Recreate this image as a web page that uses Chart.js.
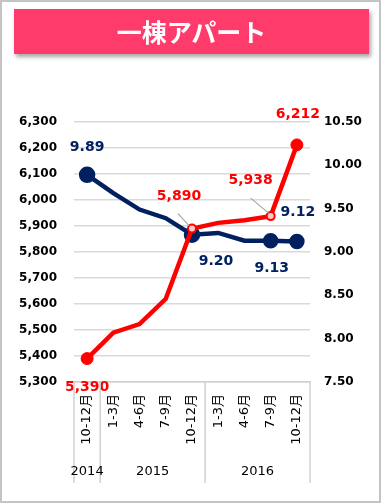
<!DOCTYPE html>
<html><head><meta charset="utf-8">
<script src="https://cdn.jsdelivr.net/npm/chart.js@4"></script>
<style>
html,body{margin:0;padding:0;background:#fff;}
body{position:relative;width:381px;height:503px;overflow:hidden;}
#c{position:absolute;left:0;top:0;}
#frame{position:absolute;left:0;top:0;width:381px;height:503px;box-sizing:border-box;border:2px solid #c4c4c4;pointer-events:none;}
#title{position:absolute;left:14px;top:9px;width:355px;height:45px;background:#FF3B6B;color:#fff;font:bold 25px "Noto Sans CJK JP";text-align:center;line-height:44px;box-shadow:2px 3px 4px rgba(0,0,0,0.35);}
</style></head>
<body>
<canvas id="c" width="381" height="503"></canvas>
<div id="title">一棟アパート</div>
<div id="frame"></div>
<script>
const categories = ["10-12月","1-3月","4-6月","7-9月","10-12月","1-3月","4-6月","7-9月","10-12月"];
const years = ["2014","2015","2016"];
const yearStart = [0,1,5];
const yearEnd = [0,4,8];
const priceValues = [5390,5490,5523,5620,5890,5912,5922,5938,6212];
const yieldValues = [9.89,9.68,9.49,9.39,9.20,9.22,9.13,9.13,9.12];
const leftTicks = {min:5300,max:6300,step:100};
const rightTicks = {min:7.5,max:10.5,step:0.5};

const RED = '#FF0000', NAVY = '#002060';
const FONT = 'DejaVu Sans, "Noto Sans CJK JP", sans-serif';

// marker styling per point index
const redBig = [0,8], redRing = [4,7];
const navyBig = [0,4], navyMid = [7,8];

// labels: [datasetIndex, pointIndex, dx, dy, leader]
const labelSpecs = [
  [1,0,0,-28,null],
  [0,0,0,29,null],
  [0,4,-13,-32,[-14,-15,-3,-3]],
  [1,4,24,27,null],
  [0,7,-20,-36,[-20,-18,-2,-3]],
  [1,7,1,28,null],
  [1,8,1,-29,null],
  [0,8,1,-31,null]
];

const fmtPrice = v => v.toLocaleString('en-US');
const fmtYield = v => v.toFixed(2);

const groupPlugin = {
  id:'groups',
  afterDraw(chart){
    const ctx = chart.ctx, xs = chart.scales.x, area = chart.chartArea;
    const step = xs.getPixelForValue(1) - xs.getPixelForValue(0);
    ctx.save();
    ctx.strokeStyle = '#d0d0d0';
    ctx.lineWidth = 1.5;
    const bounds = [0,1,5,9];
    bounds.forEach(b=>{
      const x = xs.getPixelForValue(0) + (b-0.5)*step;
      ctx.beginPath(); ctx.moveTo(x, area.bottom); ctx.lineTo(x, 483); ctx.stroke();
    });
    ctx.fillStyle = '#000';
    ctx.font = '13px ' + FONT;
    ctx.textAlign = 'center'; ctx.textBaseline = 'middle';
    years.forEach((y,i)=>{
      const x = (xs.getPixelForValue(yearStart[i]) + xs.getPixelForValue(yearEnd[i]))/2;
      ctx.fillText(y, x, 472);
    });
    ctx.restore();
  }
};

const labelPlugin = {
  id:'dlabels',
  afterDatasetsDraw(chart){
    const ctx = chart.ctx;
    ctx.save();
    labelSpecs.forEach(([d,i,dx,dy,leader])=>{
      const el = chart.getDatasetMeta(d).data[i];
      const px = el.x, py = el.y;
      if(leader){
        ctx.strokeStyle = '#a6a6a6'; ctx.lineWidth = 1.2;
        ctx.beginPath(); ctx.moveTo(px+leader[0], py+leader[1]); ctx.lineTo(px+leader[2], py+leader[3]); ctx.stroke();
      }
      const v = chart.data.datasets[d].data[i];
      ctx.fillStyle = d===0 ? RED : NAVY;
      ctx.font = 'bold 14px ' + FONT;
      ctx.textAlign = 'center'; ctx.textBaseline = 'middle';
      ctx.fillText(d===0 ? fmtPrice(v) : fmtYield(v), px+dx, py+dy);
    });
    ctx.restore();
  }
};

new Chart(document.getElementById('c'), {
  type:'line',
  data:{
    labels:categories,
    datasets:[
      {label:'price', data:priceValues, yAxisID:'yL', borderColor:RED, backgroundColor:RED, borderWidth:4.5, tension:0,
       pointRadius:c=>redBig.includes(c.dataIndex)?6:(redRing.includes(c.dataIndex)?4:0),
       pointBackgroundColor:c=>redRing.includes(c.dataIndex)?'#ffc8c8':RED,
       pointBorderColor:RED, pointBorderWidth:c=>redRing.includes(c.dataIndex)?2:1},
      {label:'yield', data:yieldValues, yAxisID:'yR', borderColor:NAVY, backgroundColor:NAVY, borderWidth:4.5, tension:0,
       pointRadius:c=>navyBig.includes(c.dataIndex)?6:(navyMid.includes(c.dataIndex)?5.5:0),
       pointBackgroundColor:NAVY, pointBorderColor:NAVY}
    ]
  },
  options:{
    responsive:false, animation:false, devicePixelRatio:1,
    layout:{padding:{top:122,left:0,right:0,bottom:0}},
    plugins:{legend:{display:false}, tooltip:{enabled:false}, title:{display:false}},
    scales:{
      x:{
        offset:true,
        grid:{display:false, drawTicks:false},
        border:{display:true, color:'#d0d0d0', width:1.5},
        ticks:{color:'#000', font:{family:FONT,size:13}, minRotation:90, maxRotation:90, padding:12, autoSkip:false},
        afterFit(s){ s.height = 121; }
      },
      yL:{
        position:'left', min:leftTicks.min, max:leftTicks.max,
        grid:{color:'#d9d9d9', lineWidth:1.5, drawTicks:false},
        border:{display:false},
        ticks:{stepSize:leftTicks.step, color:'#000', font:{family:FONT,size:12,weight:'bold'}, padding:17, callback:v=>fmtPrice(v)},
        afterFit(s){ s.width = 74; }
      },
      yR:{
        position:'right', min:rightTicks.min, max:rightTicks.max,
        grid:{display:false, drawTicks:false},
        border:{display:false},
        ticks:{stepSize:rightTicks.step, color:'#000', font:{family:FONT,size:12,weight:'bold'}, padding:14, callback:v=>fmtYield(v)},
        afterFit(s){ s.width = 71; }
      }
    }
  },
  plugins:[groupPlugin, labelPlugin]
});
</script>
</body></html>
